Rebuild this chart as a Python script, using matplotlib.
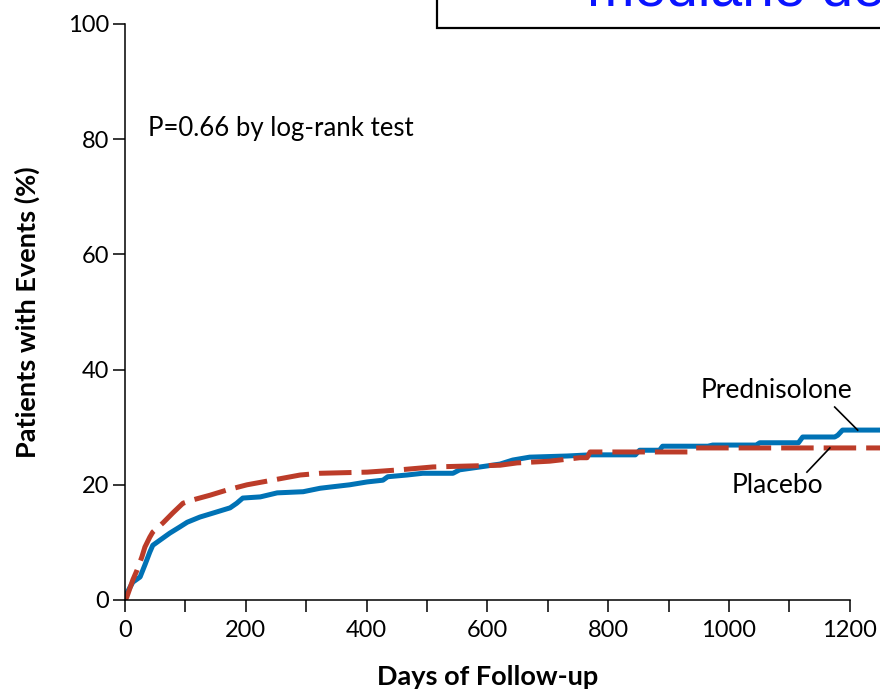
import matplotlib
matplotlib.use("Agg")
from matplotlib import pyplot as plt
from matplotlib.patches import Rectangle

plt.rcParams['font.family'] = ['Lato', 'DejaVu Sans']

# Prednisolone (solid blue)
pred_days = [0, 3, 13, 25, 33, 41, 46, 58, 74, 91, 103, 124, 146, 174, 185, 195, 224, 252, 295, 323,
             339, 372, 401, 427, 435, 467, 493, 543, 554, 588, 621, 642, 670, 732, 770, 845, 852, 885,
             890, 965, 973, 1045, 1051, 1115, 1122, 1175, 1180, 1188, 1260]
pred_pct = [0, 1.2, 3.1, 4.0, 6.1, 8.3, 9.5, 10.4, 11.6, 12.7, 13.5, 14.4, 15.1, 16.0, 16.8, 17.7, 17.9,
            18.6, 18.8, 19.4, 19.6, 20.0, 20.5, 20.8, 21.4, 21.7, 22.0, 22.0, 22.6, 23.1, 23.6, 24.3, 24.8,
            25.0, 25.2, 25.2, 26.0, 26.0, 26.7, 26.7, 26.9, 26.9, 27.3, 27.3, 28.3, 28.3, 28.6, 29.5, 29.5]

# Placebo (dashed red)
plac_days = [0, 3, 13, 20, 28, 33, 41, 46, 63, 79, 96, 113, 141, 169, 202, 228, 290, 323, 401, 455,
             510, 621, 649, 703, 753, 765, 770, 935, 945, 1260]
plac_pct = [0, 0.5, 3.5, 5.2, 7.5, 9.2, 10.9, 11.8, 13.4, 15.1, 16.8, 17.4, 18.2, 19.1, 20.0, 20.5,
            21.7, 22.0, 22.2, 22.6, 23.1, 23.4, 23.8, 24.1, 24.7, 24.7, 25.7, 25.7, 26.4, 26.4]

x_ticks = list(range(0, 1201, 100))
x_labels = [str(t) if t % 200 == 0 else '' for t in x_ticks]
y_ticks = [0, 20, 40, 60, 80, 100]

blue = '#0072B5'
red = '#BC3C29'

fig = plt.figure(figsize=(8.8, 6.94), dpi=100)
ax = fig.add_axes([125/880, 94/694, 755/880, 576/694])

ax.plot(pred_days, pred_pct, color=blue, lw=3.6, solid_joinstyle='round')
ax.plot(plac_days, plac_pct, color=red, lw=3.6, dashes=(6.5, 2))

ax.set_xlim(0, 1250)
ax.set_ylim(0, 100)
ax.spines['top'].set_visible(False)
ax.spines['right'].set_visible(False)
ax.spines['bottom'].set_bounds(0, 1200)
for s in ['left', 'bottom']:
    ax.spines[s].set_linewidth(1.1)

ax.set_xticks(x_ticks)
ax.set_xticklabels(x_labels)
ax.set_yticks(y_ticks)
ax.tick_params(length=8.5, width=1.1, labelsize=17, direction='out')
ax.tick_params(axis='x', pad=6)
ax.tick_params(axis='y', pad=3)

ax.set_xlabel('Days of Follow-up', fontsize=19.5, fontweight='bold')
ax.set_ylabel('Patients with Events (%)', fontsize=19.5, fontweight='bold')
ax.xaxis.set_label_coords(600/1250, -0.113)
ax.yaxis.set_label_coords(-0.112, 0.5)

ax.text(38, 81.8, 'P=0.66 by log-rank test', fontsize=18.5, va='center', ha='left')

ax.text(1079, 36.3, 'Prednisolone', fontsize=19, ha='center', va='center')
ax.plot([1175, 1213], [33.5, 29.5], color='black', lw=1.2)
ax.text(1081, 19.8, 'Placebo', fontsize=19, ha='center', va='center')
ax.plot([1167, 1129], [26.4, 22.2], color='black', lw=1.2)

# overlapping box at the top
fig.patches.append(Rectangle((437/880, 1 - 28/694), 0.6, 0.2, transform=fig.transFigure,
                             facecolor='white', edgecolor='black', lw=1.6, zorder=5))
fig.text(587/880, 1 - 5/694, 'mediane de suivi', color='#0A14FF', fontsize=41,
         family='Liberation Sans', ha='left', va='baseline', zorder=6)

fig.savefig('out.png', dpi=100)
